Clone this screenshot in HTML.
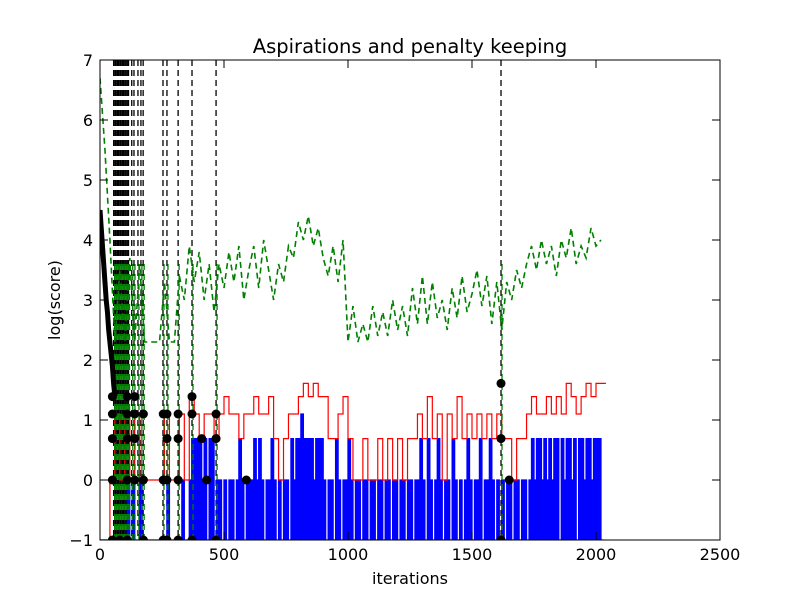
<!DOCTYPE html>
<html><head><meta charset="utf-8"><style>
body{margin:0;background:#fff;}
svg{display:block;font-family:"DejaVu Sans","Liberation Sans",sans-serif;}
</style></head><body>
<svg id="chart" width="800" height="600">
<rect width="800" height="600" fill="#fff"/>
<text x="410" y="53" font-size="19.5" text-anchor="middle">Aspirations and penalty keeping</text>
<text x="410" y="584" font-size="16" text-anchor="middle">iterations</text>
<text transform="translate(60,300) rotate(-90)" font-size="16" text-anchor="middle">log(score)</text>
<defs><clipPath id="clip"><rect x="100" y="60" width="620" height="480"/></clipPath></defs>
<g id="plot" clip-path="url(#clip)"></g>
<g id="axes"></g>
</svg>
<script>
const xTicks=[0,500,1000,1500,2000,2500];
const yTicks=[-1,0,1,2,3,4,5,6,7];
const redStep=20;
const redVals=[-1,-1,0,1.1,0,1.1,0,1.1,0,0,0,0,0,1.1,0,0,1.1,0,1.39,1.1,0.69,1.1,1.1,0.69,1.1,1.39,1.1,1.1,0.69,1.1,1.1,1.39,1.1,1.1,1.39,0.69,0,0.69,1.1,1.1,1.39,1.61,1.39,1.61,1.39,1.39,0.69,0.69,1.1,1.39,0.69,0,0,0.69,0,0,0.69,0,0.69,0,0.69,0,0.69,0.69,1.1,0.69,1.39,0.69,1.1,0,1.1,0.69,1.39,0.69,1.1,0.69,1.1,0.69,1.1,0.69,1.1,0.69,0.69,0,0.69,0.69,1.1,1.39,1.1,1.1,1.39,1.1,1.39,1.1,1.61,1.39,1.1,1.39,1.61,1.39,1.61,1.61];
const blueStep=10;
const blueVals=[-1,-1,-1,-1,-1,-1,-1,-1,-1,-1,
-1,0,-1,0,-1,-1,0,-1,-1,-1,
-1,-1,-1,-1,-1,-1,-1,0,-1,-1,
-1,-1,-1,0,-1,-1,0,0.69,0.69,0.69,
0.69,0,0.69,-1,0.69,0.69,-1,0,0,-1,
0,-1,0,0,-1,0,0.69,0,-1,0,
0,0,0.69,0,0.69,0,-1,0,0,0.69,
0,-1,0,-1,0,0,-1,0.69,0,0.69,
0.69,1.1,0.69,0.69,0.69,0.69,0,0.69,0.69,0.69,
0,-1,0,0,-1,0.69,0,-1,0,0,
0.69,0,-1,0,0,-1,0,0,-1,0,
0,-1,0,0,-1,0,0,-1,0,0,
-1,0,0,-1,0,0,-1,0,0,0.69,
0,-1,0.69,0,-1,0,0.69,0,-1,0,
0,-1,0.69,0,-1,0,-1,0,0.69,0,
-1,0,0,0.69,-1,0,0,0.69,0,-1,
0,-1,0,-1,0,0,-1,0,0,-1,
0,0,-1,0,0.69,0,0.69,0.69,0,0.69,
0,0.69,0,0.69,0.69,-1,0.69,0,0.69,0.69,
0,0.69,-1,0.69,0.69,0,0.69,0.69,0,0.69,
0.69,0.69,-1];
const greenStep=20;
const greenVals=[6.7,5.5,4.0,2.3,3.5,2.3,3.7,2.3,3.6,2.3,2.3,2.3,2.3,3.3,2.3,2.3,3.4,3.0,3.9,3.3,3.8,3.0,3.6,2.8,3.6,3.2,3.8,3.3,3.9,3.0,3.5,3.9,3.2,4.0,3.5,3.0,3.6,3.3,3.9,3.7,4.3,4.0,4.4,3.9,4.2,3.7,3.4,3.9,3.3,4.0,2.3,2.9,2.3,2.6,2.3,2.9,2.4,2.8,2.4,3.0,2.5,2.9,2.4,3.2,2.6,3.4,2.6,3.3,2.7,3.0,2.5,3.2,2.7,3.4,2.8,3.1,3.5,2.9,3.4,2.6,3.3,2.5,3.3,3.0,3.5,3.2,3.6,3.9,3.5,4.0,3.6,3.9,3.4,4.0,3.7,4.2,3.6,3.9,3.7,4.2,3.9,4.0];
const vlineIters=[55,60,65,70,75,80,85,90,95,100,105,110,115,128,137,153,165,174,254,270,315,371,468,1617];
const decayIters=[0,5,10,15,20,25,30,35,40,45,50,55,60];
const decayVals=[4.5,4.2,3.9,3.6,3.3,3.0,2.8,2.5,2.3,2.1,1.9,1.6,1.4];
const dotIters=[50,50,50,50,50,80,110,110,110,110,110,140,140,140,140,175,175,175,255,270,270,270,255,315,315,315,255,270,315,371,371,371,410,430,468,468,468,590,1617,1617,1617,1650];
const dotVals=[1.39,1.1,0.69,0,-1,-1,1.39,1.1,0.69,0,-1,1.39,1.1,0.69,0,1.1,0,-1,1.1,1.1,0.69,0,0,1.1,0.69,0,-1,-1,-1,1.39,1.1,-1,0.69,0,1.1,0.69,-1,0,1.61,0.69,-1,0];

const NS="http://www.w3.org/2000/svg";
const X=v=>100+v*620/2500;
const Y=v=>540-(v+1)*60;
const plot=document.getElementById('plot');
const axes=document.getElementById('axes');
function mk(tag,attrs,parent){const e=document.createElementNS(NS,tag);for(const k in attrs)e.setAttribute(k,attrs[k]);parent.appendChild(e);return e;}
function stepPath(vals,step){let d='';vals.forEach((v,i)=>{const x=X(i*step),y=Y(v);if(i===0)d+='M'+x+','+y;else d+='H'+x+'V'+y;});d+='H'+X(vals.length*step);return d;}

vlineIters.forEach(it=>{
  const l=mk('line',{x1:X(it),x2:X(it),y1:60,y2:540,stroke:'#000','stroke-width':1.3,'stroke-dasharray':'6,4'},plot);
  
  
});
const bd=stepPath(blueVals,blueStep)+'V'+Y(-1)+'H'+X(0)+'Z';
const b=mk('path',{d:bd,fill:'#0000ff',stroke:'#0000ff','stroke-width':1.3},plot);


const r=mk('path',{d:stepPath(redVals,redStep),fill:'none',stroke:'#ff0000','stroke-width':1.2},plot);


let gd='';greenVals.forEach((v,i)=>{gd+=(i?'L':'M')+X(i*greenStep)+','+Y(v);});
const g=mk('path',{d:gd,fill:'none',stroke:'#008000','stroke-width':1.6,'stroke-dasharray':'6,4'},plot);


vlineIters.forEach(it=>{
  const l=mk('line',{x1:X(it)+1,x2:X(it)+1,y1:Y(3.6),y2:540,stroke:'#008000','stroke-width':1.3,'stroke-dasharray':'6,4'},plot);
  
  
});
let dd='';decayVals.forEach((v,i)=>{dd+=(i?'L':'M')+X(decayIters[i])+','+Y(v);});
const dc=mk('path',{d:dd,fill:'none',stroke:'#000','stroke-width':5},plot);


dotVals.forEach((v,i)=>{
  const c=mk('circle',{cx:X(dotIters[i]),cy:Y(v),r:4.5,fill:'#000'},plot);
  
  
});
const fr=mk('rect',{x:100,y:60,width:620,height:480,fill:'none',stroke:'#000','stroke-width':1},axes);


xTicks.forEach(t=>{
  const x=X(t);
  mk('line',{x1:x,x2:x,y1:540,y2:532,stroke:'#000'},axes);
  mk('line',{x1:x,x2:x,y1:60,y2:68,stroke:'#000'},axes);
  const tx=mk('text',{x:x,y:560,'font-size':16,'text-anchor':'middle'},axes);
  tx.textContent=t;
  
  
});
yTicks.forEach(t=>{
  const y=Y(t);
  mk('line',{x1:100,x2:108,y1:y,y2:y,stroke:'#000'},axes);
  mk('line',{x1:712,x2:720,y1:y,y2:y,stroke:'#000'},axes);
  const tx=mk('text',{x:93,y:y+6,'font-size':16,'text-anchor':'end'},axes);
  tx.textContent=t<0?'\u2212'+Math.abs(t):t;
  
  
});
</script>
</body></html>
